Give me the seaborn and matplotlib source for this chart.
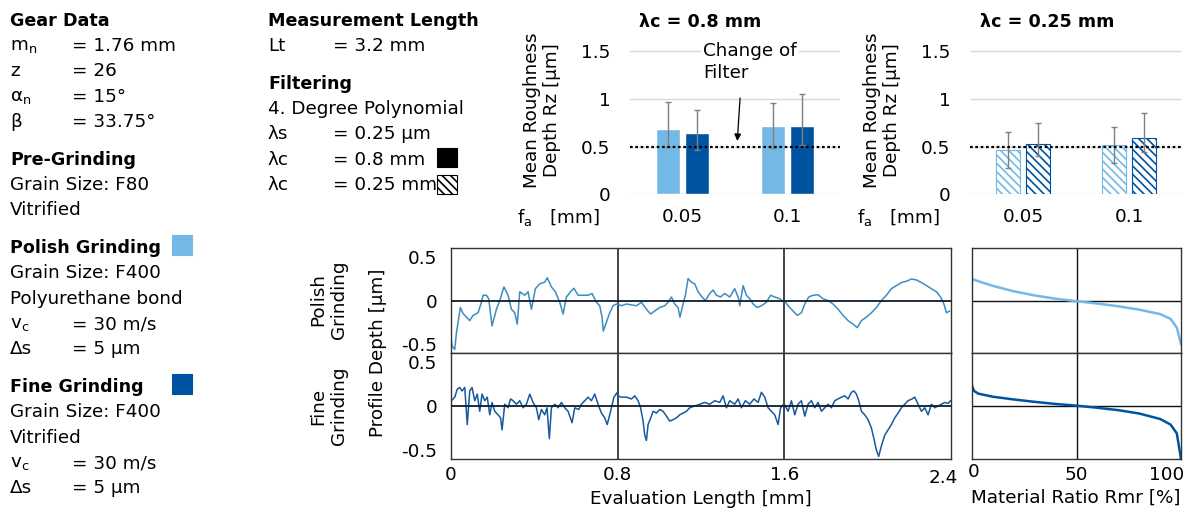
import numpy as np
import pandas as pd
import matplotlib
matplotlib.use("Agg")
import matplotlib.pyplot as plt
from matplotlib.patches import Rectangle
from matplotlib.transforms import ScaledTranslation
import seaborn as sns

# ---------------- data ----------------
feeds = ["0.05", "0.1"]
processes = ["Polish Grinding", "Fine Grinding"]

rz_08_polish = [0.68, 0.72]
rz_08_fine = [0.64, 0.72]
rz_08_polish_lo = [0.50, 0.49]
rz_08_polish_hi = [0.97, 0.96]
rz_08_fine_lo = [0.47, 0.52]
rz_08_fine_hi = [0.88, 1.05]

rz_025_polish = [0.47, 0.52]
rz_025_fine = [0.53, 0.59]
rz_025_polish_lo = [0.28, 0.33]
rz_025_polish_hi = [0.65, 0.71]
rz_025_fine_lo = [0.40, 0.44]
rz_025_fine_hi = [0.75, 0.85]

filter_change_rz = 0.5

profile_xticks = [0, 0.8, 1.6, 2.4]
profile_yticks = [0.5, 0, -0.5]
mr_xticks = [0, 50, 100]
bar_yticks = [0, 0.5, 1, 1.5]

polish_x = [0.000, 0.005, 0.018, 0.026, 0.034, 0.045, 0.058, 0.074, 0.090, 0.106, 0.130, 0.146, 0.154,
            0.170, 0.181, 0.197, 0.218, 0.234, 0.254, 0.274, 0.290, 0.306, 0.318, 0.330, 0.354, 0.370,
            0.386, 0.405, 0.426, 0.450, 0.462, 0.482, 0.501, 0.522, 0.538, 0.554, 0.574, 0.590, 0.610,
            0.634, 0.658, 0.677, 0.698, 0.714, 0.725, 0.731, 0.746, 0.762, 0.778, 0.794,
            0.800, 0.818, 0.842, 0.866, 0.890, 0.914, 0.938, 0.958, 0.978, 1.002, 1.026, 1.042, 1.058,
            1.074, 1.090, 1.099, 1.114, 1.125, 1.138, 1.154, 1.170, 1.186, 1.205, 1.221, 1.242, 1.258,
            1.274, 1.294, 1.314, 1.338, 1.362, 1.381, 1.386, 1.402, 1.418, 1.434, 1.450, 1.470, 1.490,
            1.514, 1.534, 1.554, 1.578, 1.597,
            1.600, 1.618, 1.642, 1.662, 1.682, 1.698, 1.717, 1.738, 1.762, 1.786, 1.810, 1.834, 1.858,
            1.882, 1.906, 1.930, 1.950, 1.970, 1.994, 2.018, 2.042, 2.066, 2.090, 2.114, 2.138, 2.162,
            2.186, 2.210, 2.234, 2.258, 2.282, 2.306, 2.330, 2.350, 2.366, 2.378, 2.394]
polish_z = [-0.42, -0.52, -0.56, -0.37, -0.25, -0.08, -0.15, -0.19, -0.23, -0.17, -0.14, -0.02, 0.06,
            0.06, 0.02, -0.29, -0.10, 0.00, 0.155, 0.06, -0.10, -0.14, -0.27, 0.10, 0.06, 0.10,
            -0.10, 0.135, 0.19, 0.21, 0.26, 0.155, 0.10, -0.02, -0.155, 0.04, 0.10, 0.14, 0.06,
            0.06, 0.06, 0.08, -0.02, -0.06, -0.19, -0.35, -0.25, -0.14, -0.06, -0.04,
            -0.04, -0.06, -0.04, -0.05, -0.06, -0.02, -0.10, -0.155, -0.12, -0.08, -0.06, -0.02, 0.04,
            -0.04, -0.08, -0.19, -0.04, 0.06, 0.25, 0.21, 0.19, 0.10, 0.04, 0.00, 0.08, 0.12,
            0.06, 0.04, 0.08, 0.04, 0.135, 0.02, -0.06, 0.17, 0.06, 0.02, -0.04, -0.08, -0.06,
            -0.02, 0.06, 0.04, 0.02, -0.02,
            0.00, -0.06, -0.12, -0.17, -0.14, -0.04, 0.04, 0.06, 0.065, 0.02, 0.00, -0.04, -0.10,
            -0.17, -0.23, -0.27, -0.31, -0.23, -0.19, -0.14, -0.08, 0.00, 0.06, 0.135, 0.17, 0.205,
            0.22, 0.245, 0.235, 0.205, 0.17, 0.135, 0.10, 0.04, -0.04, -0.14, -0.12]

fine_x = [0.002, 0.018, 0.030, 0.042, 0.053, 0.066, 0.078, 0.090, 0.101, 0.114, 0.126, 0.138, 0.149,
          0.162, 0.174, 0.186, 0.197, 0.210, 0.226, 0.238, 0.245, 0.258, 0.274, 0.286, 0.298, 0.314,
          0.330, 0.346, 0.362, 0.378, 0.394, 0.410, 0.421, 0.434, 0.450, 0.461, 0.472, 0.482, 0.498,
          0.514, 0.530, 0.546, 0.562, 0.581, 0.594, 0.613, 0.626, 0.642, 0.658, 0.674, 0.690, 0.706,
          0.722, 0.738, 0.750, 0.766, 0.782, 0.798,
          0.800, 0.818, 0.842, 0.866, 0.882, 0.898, 0.910, 0.922, 0.930, 0.938, 0.946, 0.958, 0.970,
          0.986, 1.002, 1.018, 1.034, 1.050, 1.066, 1.082, 1.098, 1.114, 1.130, 1.146, 1.170, 1.194,
          1.218, 1.242, 1.266, 1.290, 1.306, 1.322, 1.338, 1.362, 1.378, 1.394, 1.413, 1.434, 1.454,
          1.474, 1.490, 1.506, 1.522, 1.538, 1.554, 1.570, 1.582, 1.597,
          1.600, 1.618, 1.634, 1.650, 1.666, 1.682, 1.698, 1.714, 1.730, 1.746, 1.762, 1.778, 1.794,
          1.810, 1.826, 1.842, 1.858, 1.874, 1.890, 1.906, 1.922, 1.934, 1.946, 1.957, 1.970, 1.986,
          2.002, 2.018, 2.030, 2.042, 2.053, 2.066, 2.082, 2.098, 2.114, 2.130, 2.146, 2.162, 2.178,
          2.194, 2.213, 2.226, 2.242, 2.258, 2.274, 2.290, 2.306, 2.322, 2.338, 2.354, 2.370, 2.386,
          2.398]
fine_z = [0.06, 0.10, 0.19, 0.21, 0.17, 0.21, -0.21, 0.17, 0.21, 0.06, 0.135, -0.06, 0.135,
          0.06, 0.10, -0.10, 0.04, -0.06, -0.10, -0.135, -0.27, 0.02, -0.02, 0.08, 0.06, 0.02,
          0.06, -0.02, 0.02, 0.135, 0.04, -0.02, -0.155, -0.04, -0.10, -0.02, -0.37, -0.02, 0.02,
          -0.02, 0.04, -0.02, -0.06, -0.19, -0.02, -0.04, 0.02, 0.06, 0.10, 0.06, 0.135, 0.02,
          -0.08, -0.135, -0.21, -0.06, 0.10, 0.155,
          0.115, 0.10, 0.10, 0.08, 0.115, 0.06, -0.02, -0.17, -0.33, -0.39, -0.21, -0.14, -0.06,
          -0.08, -0.04, -0.06, -0.115, -0.17, -0.155, -0.135, -0.10, -0.08, -0.06, -0.02, 0.00, 0.02,
          0.04, 0.02, 0.06, 0.04, 0.115, -0.02, 0.06, 0.02, 0.08, -0.02, 0.06, 0.02, 0.08,
          0.04, 0.155, 0.10, -0.02, -0.06, -0.10, -0.21, -0.02, 0.02,
          0.02, -0.06, 0.06, -0.10, 0.02, 0.06, -0.115, 0.02, 0.06, -0.02, 0.04, -0.06, -0.02,
          0.02, -0.02, 0.06, 0.08, 0.10, 0.115, 0.08, 0.155, 0.17, 0.135, 0.06, -0.06, -0.10,
          -0.155, -0.25, -0.37, -0.50, -0.57, -0.45, -0.33, -0.27, -0.21, -0.135, -0.08, -0.02, 0.02,
          0.06, 0.08, 0.10, 0.02, -0.06, -0.02, -0.10, 0.02, -0.02, 0.00, 0.02, 0.04, 0.03,
          0.06]

mr_ratio_polish = [0, 5, 10, 20, 30, 40, 50, 60, 70, 80, 90, 95, 98, 100]
mr_depth_polish = [0.245, 0.205, 0.167, 0.105, 0.058, 0.02, -0.008, -0.035, -0.066, -0.105, -0.155, -0.21, -0.31, -0.50]
mr_ratio_fine = [0, 1, 3, 10, 20, 30, 40, 50, 60, 70, 80, 90, 95, 98, 100]
mr_depth_fine = [0.23, 0.17, 0.14, 0.105, 0.074, 0.047, 0.023, 0.004, -0.02, -0.047, -0.085, -0.147, -0.21, -0.31, -0.60]

# text content
gear_block = [("Gear Data", None), ("$\\mathregular{m_n}$", "= 1.76 mm"), ("z", "= 26"),
              ("$\\mathregular{α_n}$", "= 15°"), ("β", "= 33.75°")]
pre_block = [("Pre-Grinding", None), ("Grain Size: F80", ""), ("Vitrified", "")]
polish_block = [("Polish Grinding", None), ("Grain Size: F400", ""), ("Polyurethane bond", ""),
                ("$\\mathregular{v_c}$", "= 30 m/s"), ("Δs", "= 5 µm")]
fine_block = [("Fine Grinding", None), ("Grain Size: F400", ""), ("Vitrified", ""),
              ("$\\mathregular{v_c}$", "= 30 m/s"), ("Δs", "= 5 µm")]
meas_block = [("Measurement Length", None), ("Lt", "= 3.2 mm")]
filt_block = [("Filtering", None), ("4. Degree Polynomial", ""), ("λs", "= 0.25 µm"),
              ("λc", "= 0.8 mm"), ("λc", "= 0.25 mm")]

# ---------------- style ----------------
LIGHT = "#74B8E5"
DARK = "#0053A0"
TRACE_LIGHT = "#3C8DC0"
TRACE_DARK = "#17599E"
FS = 13.2
FSB = 12.6

sns.set_theme(style="white")
plt.rcParams["font.family"] = ["DejaVu Sans"]
plt.rcParams["mathtext.fontset"] = "custom"
plt.rcParams["mathtext.rm"] = "DejaVu Sans"
plt.rcParams["font.size"] = FS
plt.rcParams["hatch.linewidth"] = 1.2
plt.rcParams["text.color"] = "black"
plt.rcParams["axes.labelcolor"] = "black"
plt.rcParams["xtick.color"] = "black"
plt.rcParams["ytick.color"] = "black"

W, H = 1190, 512
fig = plt.figure(figsize=(W / 100, H / 100), dpi=100)


def fx(x):
    return x / W


def fy(y):
    return 1 - y / H


def add_axes_px(left, top, right, bottom):
    return fig.add_axes([fx(left), fy(bottom), (right - left) / W, (bottom - top) / H])


# ---------------- text blocks ----------------
def draw_blocks(blocks, x_lab, x_val, y0=20.7, step=25.3, gap=12.5):
    y = y0
    for b in blocks:
        for lab, val in b:
            if val is None:
                fig.text(fx(x_lab), fy(y), lab, fontsize=FSB, fontweight="bold", ha="left", va="center")
            else:
                fig.text(fx(x_lab), fy(y), lab, fontsize=FS, ha="left", va="center")
                if val:
                    fig.text(fx(x_val), fy(y), val, fontsize=FS, ha="left", va="center")
            y += step
        y += gap


draw_blocks([gear_block, pre_block, polish_block, fine_block], 10, 72)
draw_blocks([meas_block, filt_block], 268, 333)


def square_px(x0, y0, x1, y1, **kw):
    fig.add_artist(Rectangle((fx(x0), fy(y1)), (x1 - x0) / W, (y1 - y0) / H,
                             transform=fig.transFigure, **kw))


square_px(172, 235, 192, 255, facecolor=LIGHT, edgecolor=LIGHT, lw=0.8)
square_px(172, 374, 192, 394, facecolor=DARK, edgecolor=DARK, lw=0.8)
square_px(437, 148, 457, 167, facecolor="black", edgecolor="black", lw=0.8)
square_px(437, 175, 457, 194, facecolor="white", edgecolor="black", hatch="\\\\\\\\", lw=0.8)

# ---------------- bar charts ----------------
def bar_chart(ax, polish, fine, plo, phi, flo, fhi, hatched):
    df = pd.DataFrame({
        "feed": feeds * 2,
        "process": [processes[0]] * 2 + [processes[1]] * 2,
        "rz": polish + fine,
    })
    sns.barplot(data=df, x="feed", y="rz", hue="process", hue_order=processes, order=feeds,
                palette=[LIGHT, DARK], width=0.56, gap=0.18, errorbar=None, legend=False,
                saturation=1, ax=ax)
    lows = plo + flo
    highs = phi + fhi
    vals = polish + fine
    cols = [LIGHT, LIGHT, DARK, DARK]
    for p, lo, hi, v, c in zip(list(ax.patches), lows, highs, vals, cols):
        xc = p.get_x() + p.get_width() / 2
        if hatched:
            p.set_facecolor("white")
            p.set_edgecolor(c)
            p.set_hatch("\\\\\\\\")
            if hasattr(p, "set_hatchcolor"):
                p.set_hatchcolor(c)
            p.set_linewidth(0.8)
        ax.errorbar([xc], [v], yerr=[[v - lo], [hi - v]], fmt="none", ecolor="#7f7f7f",
                    elinewidth=1, capsize=2.5, capthick=1, zorder=5)
    ax.axhline(filter_change_rz, color="black", ls=(0, (1.2, 1.2)), lw=1.6, zorder=6)
    ax.set_xlim(-0.5, 1.5)
    ax.set_ylim(0, 1.6)
    ax.set_yticks(bar_yticks)
    ax.set_yticklabels(["0", "0.5", "1", "1.5"])
    ax.yaxis.grid(True, color="#d9d9d9", lw=1)
    ax.set_axisbelow(True)
    for s in ax.spines.values():
        s.set_visible(False)
    ax.tick_params(axis="both", length=0, labelsize=FS)
    ax.tick_params(axis="y", pad=14)
    ax.tick_params(axis="x", pad=10)
    ax.set_xlabel("")
    ax.set_ylabel("")


ax_b1 = add_axes_px(630, 41.8, 840, 194.3)
ax_b2 = add_axes_px(970, 41.8, 1182, 194.3)
bar_chart(ax_b1, rz_08_polish, rz_08_fine, rz_08_polish_lo, rz_08_polish_hi,
          rz_08_fine_lo, rz_08_fine_hi, hatched=False)
bar_chart(ax_b2, rz_025_polish, rz_025_fine, rz_025_polish_lo, rz_025_polish_hi,
          rz_025_fine_lo, rz_025_fine_hi, hatched=True)

ax_b1.text(0.195, 1.39, "Change of\nFilter", ha="left", va="center", fontsize=FS, linespacing=1.3,
           bbox=dict(facecolor="white", edgecolor="none", pad=1.5), zorder=7)
ax_b1.annotate("", xy=(0.52, 0.53), xytext=(0.55, 1.04),
               arrowprops=dict(arrowstyle="-|>", color="black", lw=0.9, mutation_scale=10), zorder=7)

for xc, title in [(700, "λc = 0.8 mm"), (1047, "λc = 0.25 mm")]:
    fig.text(fx(xc), fy(22), title, fontsize=FSB, fontweight="bold", ha="center", va="center")
for xc in [542, 882]:
    fig.text(fx(xc), fy(110), "Mean Roughness\nDepth Rz [µm]", rotation=90, fontsize=FS,
             ha="center", va="center", linespacing=1.2)
for xl in [517, 857]:
    fig.text(fx(xl), fy(217), "$\\mathregular{f_a}$   [mm]", fontsize=FS, ha="left", va="center")

# ---------------- profiles ----------------
ax_p1 = add_axes_px(451, 248, 951, 353)
ax_p2 = add_axes_px(451, 353, 951, 459)
ax_m1 = add_axes_px(972, 248, 1181, 353)
ax_m2 = add_axes_px(972, 353, 1181, 459)

sns.lineplot(x=polish_x, y=polish_z, ax=ax_p1, color=TRACE_LIGHT, lw=1.1, sort=False, estimator=None)
sns.lineplot(x=fine_x, y=fine_z, ax=ax_p2, color=TRACE_DARK, lw=1.1, sort=False, estimator=None)
sns.lineplot(x=mr_ratio_polish, y=mr_depth_polish, ax=ax_m1, color=LIGHT, lw=1.8, sort=False, estimator=None)
sns.lineplot(x=mr_ratio_fine, y=mr_depth_fine, ax=ax_m2, color=DARK, lw=1.8, sort=False, estimator=None)

for ax in [ax_p1, ax_p2]:
    ax.set_xlim(0, 2.4)
    ax.set_ylim(-0.6, 0.6)
    ax.set_yticks(profile_yticks)
    ax.set_yticklabels(["0.5", "0", "-0.5"])
    ax.set_xticks(profile_xticks)
    for xv in profile_xticks[1:-1]:
        ax.axvline(xv, color="#111111", lw=1.1, zorder=1)
    ax.axhline(0, color="#111a2a", lw=1.3, zorder=3)
for ax in [ax_m1, ax_m2]:
    ax.set_xlim(0, 100)
    ax.set_ylim(-0.6, 0.6)
    ax.set_yticks([])
    ax.set_xticks(mr_xticks)
    ax.axvline(mr_xticks[1], color="#111111", lw=1.0, zorder=1)
    ax.axhline(0, color="#111111", lw=1.0, zorder=1)

for ax in [ax_p1, ax_p2, ax_m1, ax_m2]:
    for s in ax.spines.values():
        s.set_visible(True)
        s.set_color("#333333")
        s.set_linewidth(1.0)
    ax.tick_params(axis="both", length=0, labelsize=FS)
    ax.tick_params(axis="y", pad=10)
    ax.tick_params(axis="x", pad=5)
    ax.set_xlabel("")
    ax.set_ylabel("")

ax_p1.set_xticklabels([])
ax_m1.set_xticklabels([])
ax_p2.set_xticklabels(["0", "0.8", "1.6", "2.4"])
ax_m2.set_xticklabels(["0", "50", "100"])

# nudge the edge tick labels like in the reference
lab_24 = ax_p2.get_xticklabels()[-1]
lab_24.set_transform(lab_24.get_transform() + ScaledTranslation(-8 / 100, -3 / 100, fig.dpi_scale_trans))
lab_100 = ax_m2.get_xticklabels()[-1]
lab_100.set_horizontalalignment("right")
lab_100.set_transform(lab_100.get_transform() + ScaledTranslation(3 / 100, 0, fig.dpi_scale_trans))
lab_0 = ax_m2.get_xticklabels()[0]
lab_0.set_transform(lab_0.get_transform() + ScaledTranslation(2 / 100, 3 / 100, fig.dpi_scale_trans))

fig.text(fx(701), fy(499), "Evaluation Length [mm]", fontsize=FS, ha="center", va="center")
fig.text(fx(1076), fy(498), "Material Ratio Rmr [%]", fontsize=FS, ha="center", va="center")
fig.text(fx(378), fy(353), "Profile Depth [µm]", rotation=90, fontsize=FS, ha="center", va="center")
fig.text(fx(329), fy(300), "Polish\nGrinding", rotation=90, fontsize=FS, ha="center", va="center",
         linespacing=1.2)
fig.text(fx(329), fy(406), "Fine\nGrinding", rotation=90, fontsize=FS, ha="center", va="center",
         linespacing=1.2)

fig.savefig("out.png", dpi=100)
